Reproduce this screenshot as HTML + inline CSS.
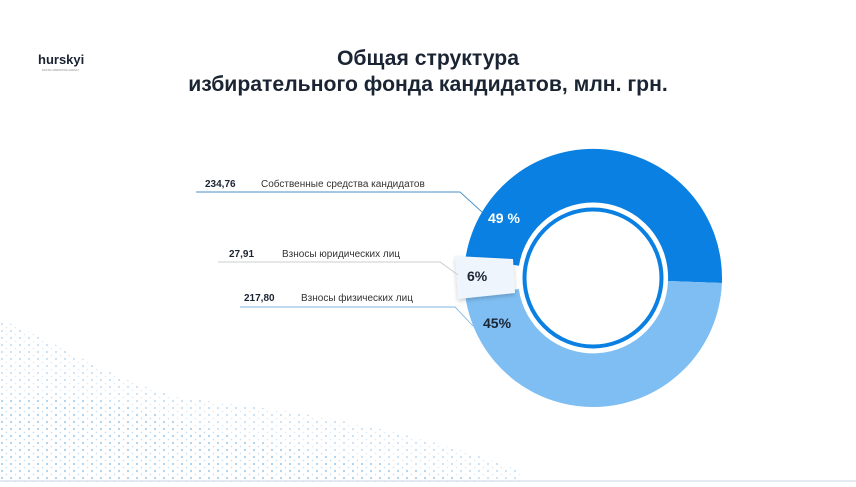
<!DOCTYPE html>
<html><head><meta charset="utf-8"><style>
body{margin:0;width:856px;height:482px;background:#fff;overflow:hidden;font-family:"Liberation Sans",sans-serif;}
</style></head><body>
<svg width="856" height="482" viewBox="0 0 856 482" xmlns="http://www.w3.org/2000/svg">
<defs>
<pattern id="dots" width="9" height="7" patternUnits="userSpaceOnUse">
<circle cx="2" cy="2" r="1.1" fill="#9cc8ec"/>
<circle cx="6.5" cy="5.5" r="0.8" fill="#b9d8f2"/>
</pattern>
<filter id="sh" x="-30%" y="-30%" width="160%" height="160%"><feDropShadow dx="0" dy="2" stdDeviation="2" flood-color="#000" flood-opacity="0.2"/></filter>
</defs>
<path d="M0 320 C60 340 120 390 200 400 C280 410 380 420 520 470 L520 482 L0 482 Z" fill="url(#dots)" opacity="0.55"/>
<path d="M0 400 C80 380 160 420 250 440 C330 455 420 470 500 482 L0 482 Z" fill="url(#dots)" opacity="0.6"/>
<line x1="0" y1="481" x2="856" y2="481" stroke="#c8d6e4" stroke-width="1"/>
<text x="38" y="64" font-size="13" font-weight="bold" fill="#1b2433">hurskyi</text>
<text x="42" y="71" font-size="2.6" fill="#888">DIGITAL MARKETING AGENCY</text>
<text x="428" y="65" text-anchor="middle" font-size="21.2" font-weight="bold" fill="#1b2433">Общая структура</text>
<text x="428" y="91" text-anchor="middle" font-size="21.2" font-weight="bold" fill="#1b2433">избирательного фонда кандидатов, млн. грн.</text>
<!-- donut -->
<path d="M721.9 283 A129 129 0 0 0 465.7 257 L519 265.8 A75 75 0 0 1 668 281 Z" fill="#0a80e2"/>
<path d="M721.9 283 A129 129 0 0 1 465.4 297 L518.8 289 A75 75 0 0 0 668 281 Z" fill="#7fbef3"/>
<path d="M455 256 L513 259 L515 293 L458 299 Z" fill="#eef5fc" filter="url(#sh)"/>
<circle cx="593" cy="278" r="68.5" fill="#fff" stroke="#0a80e2" stroke-width="4"/>
<text x="488" y="223" font-size="14" font-weight="bold" fill="#fff">49 %</text>
<text x="467" y="281" font-size="14" font-weight="bold" fill="#1b2433">6%</text>
<text x="483" y="328" font-size="14" font-weight="bold" fill="#1b2433">45%</text>
<!-- labels -->
<polyline points="196,192 460,192 482,212" fill="none" stroke="#4a90c8" stroke-width="0.9"/>
<text x="205" y="187" font-size="10" font-weight="bold" fill="#1b2433">234,76</text>
<text x="261" y="187" font-size="10" fill="#333">Собственные средства кандидатов</text>
<polyline points="218,262 440,262 458,275" fill="none" stroke="#c8ccd2" stroke-width="0.9"/>
<text x="229" y="257" font-size="10" font-weight="bold" fill="#1b2433">27,91</text>
<text x="282" y="257" font-size="10" fill="#333">Взносы юридических лиц</text>
<polyline points="240,307 455,307 473,326" fill="none" stroke="#7fb6e3" stroke-width="0.9"/>
<text x="244" y="301" font-size="10" font-weight="bold" fill="#1b2433">217,80</text>
<text x="301" y="301" font-size="10" fill="#333">Взносы физических лиц</text>
</svg>
</body></html>
